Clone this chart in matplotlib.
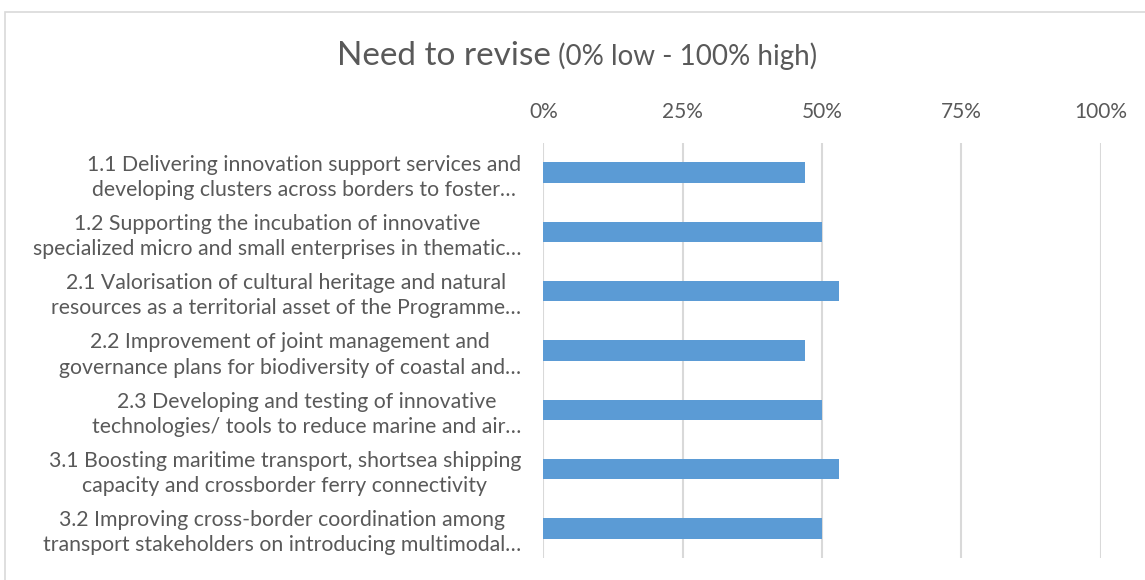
import matplotlib.pyplot as plt
from matplotlib.patches import Rectangle
from matplotlib.ticker import FuncFormatter

# survey items and their share (%)
labels = [
    "1.1 Delivering innovation support services and\ndeveloping clusters across borders to foster…",
    "1.2 Supporting the incubation of innovative\nspecialized micro and small enterprises in thematic…",
    "2.1 Valorisation of cultural heritage and natural\nresources as a territorial asset of the Programme…",
    "2.2 Improvement of joint management and\ngovernance plans for biodiversity of coastal and…",
    "2.3 Developing and testing of innovative\ntechnologies/ tools to reduce marine and air…",
    "3.1 Boosting maritime transport, shortsea shipping\ncapacity and crossborder ferry connectivity",
    "3.2 Improving cross-border coordination among\ntransport stakeholders on introducing multimodal…",
]
values = [47, 50, 53, 47, 50, 53, 50]
ticks = [0, 25, 50, 75, 100]

grey = '#595959'
plt.rcParams['font.family'] = ['Lato', 'DejaVu Sans']

fig = plt.figure(figsize=(11.45, 5.8), dpi=100)
fig.patches.append(Rectangle((5 / 1145, -0.1), 1.2, 1 - 12 / 580 + 0.1,
                             transform=fig.transFigure, fill=False,
                             edgecolor='#D9D9D9', linewidth=1.2))

ax = fig.add_axes([543.3 / 1145, 1 - 558 / 580, 557.4 / 1145, 415 / 580])
pos = range(len(labels))
ax.barh(pos, values, height=0.345, color='#5B9BD5', zorder=3)
ax.set_xlim(0, 100)
ax.set_ylim(len(labels) - 0.5, -0.5)
ax.set_xticks(ticks)
ax.xaxis.set_major_formatter(FuncFormatter(lambda v, p: f"{v:.0f}%"))
ax.xaxis.tick_top()
ax.grid(axis='x', color='#D9D9D9', linewidth=1.5, zorder=0)
for s in ax.spines.values():
    s.set_visible(False)
ax.tick_params(axis='x', length=0, pad=15, labelsize=15, labelcolor=grey)
ax.tick_params(axis='y', length=0, pad=16, labelsize=15.3, labelcolor=grey)
ax.set_yticks(list(pos))
ax.set_yticklabels(labels)
for t in ax.get_yticklabels():
    t.set_multialignment('center')
    t.set_linespacing(1.32)

# title in two sizes, centred as a unit
r = fig.canvas.get_renderer()
t1 = fig.text(0, 1 - 56 / 580, "Need to revise", fontsize=24, color=grey, va='center')
t2 = fig.text(0, 1 - 56 / 580, " (0% low - 100% high)", fontsize=20, color=grey, va='center')
w1 = t1.get_window_extent(r).width / 1145
w2 = t2.get_window_extent(r).width / 1145
x0 = 577 / 1145 - (w1 + w2) / 2
t1.set_x(x0)
t2.set_x(x0 + w1)

fig.savefig('out.png', dpi=100)
